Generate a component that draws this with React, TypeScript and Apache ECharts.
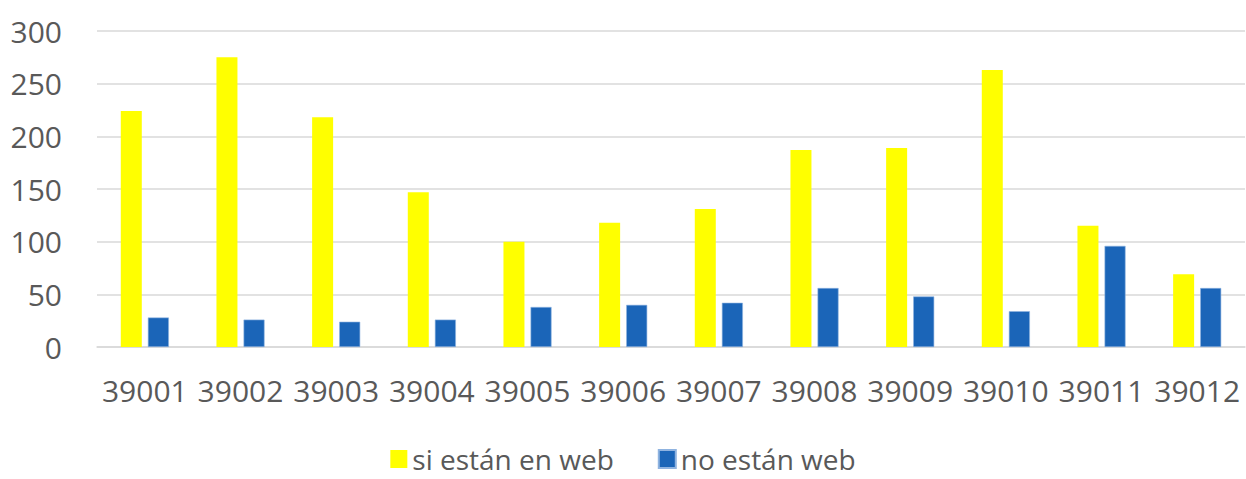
import React, { useEffect, useRef } from "react";
import * as echarts from "echarts";

const categories = ["39001", "39002", "39003", "39004", "39005", "39006", "39007", "39008", "39009", "39010", "39011", "39012"];
const siEstanEnWeb = [224, 275, 218, 147, 100, 118, 131, 187, 189, 263, 115, 69];
const noEstanWeb = [28, 26, 24, 26, 38, 40, 42, 56, 48, 34, 96, 56];
const seriesNames = ["si están en web", "no están web"];
const yTicks = { min: 0, max: 300, interval: 50 };

export default function App() {
  const ref = useRef<HTMLDivElement>(null);
  useEffect(() => {
    document.body.style.margin = "0";
    const chart = echarts.init(ref.current!, null, { renderer: "svg" });
    const font = "'Open Sans', 'Noto Sans', sans-serif";
    chart.setOption({
      animation: false,
      backgroundColor: "#ffffff",
      textStyle: { fontFamily: font },
      grid: { left: 97, right: 1, top: 31, bottom: 132, containLabel: false },
      legend: {
        data: seriesNames,
        left: "center",
        top: 444,
        padding: 0,
        itemWidth: 17,
        itemHeight: 18,
        itemGap: 44,
        icon: "rect",
        textStyle: { fontSize: 28, lineHeight: 30, color: "#595959", fontFamily: font },
      },
      xAxis: {
        type: "category",
        data: categories,
        axisTick: { show: false },
        axisLine: { show: true, lineStyle: { color: "#d9d9d9", width: 1.5 } },
        axisLabel: { fontSize: 30, color: "#595959", margin: 28, fontFamily: font, interval: 0 },
      },
      yAxis: {
        type: "value",
        min: yTicks.min,
        max: yTicks.max,
        interval: yTicks.interval,
        axisLine: { show: false },
        axisTick: { show: false },
        splitLine: { lineStyle: { color: "#d9d9d9", width: 1.5 } },
        axisLabel: { fontSize: 30, color: "#595959", margin: 35, fontFamily: font },
      },
      series: [
        {
          name: seriesNames[0],
          type: "bar",
          data: siEstanEnWeb,
          barWidth: 21,
          barGap: "29%",
          itemStyle: { color: "#ffff00" },
        },
        {
          name: seriesNames[1],
          type: "bar",
          data: noEstanWeb,
          barWidth: 21,
          barGap: "29%",
          itemStyle: { color: "#1b65b8", borderColor: "#8fb3e0", borderWidth: 0.6 },
        },
      ],
    });
    return () => chart.dispose();
  }, []);
  return <div ref={ref} style={{ width: 1246, height: 479 }} />;
}
